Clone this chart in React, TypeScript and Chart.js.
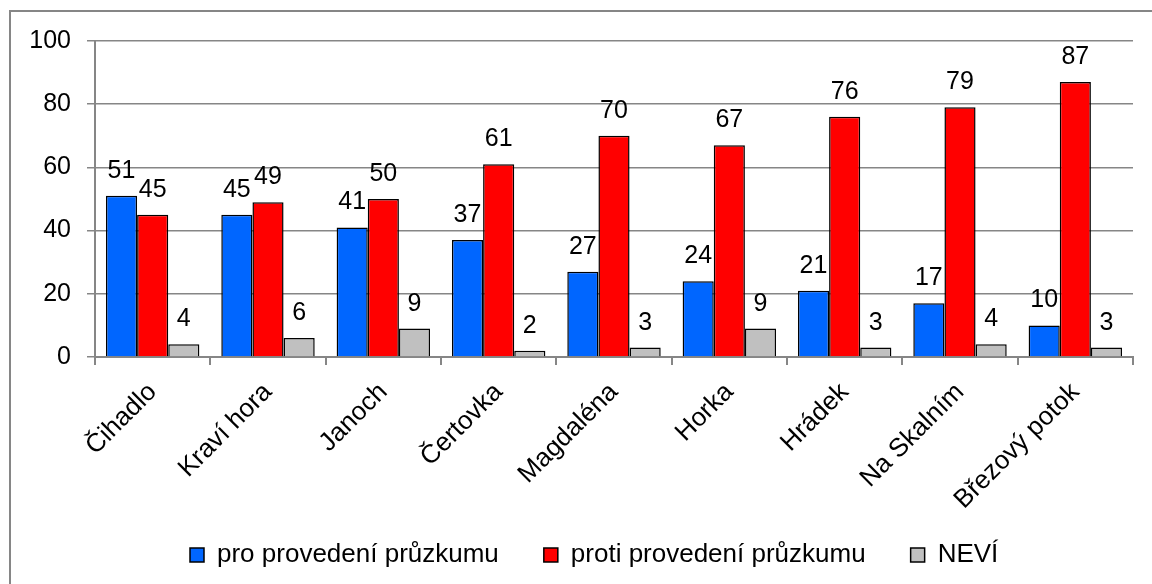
import React, { useEffect, useRef } from "react";
import { Chart, registerables } from "chart.js";

Chart.register(...registerables);

const categories = ["Čihadlo", "Kraví hora", "Janoch", "Čertovka", "Magdaléna", "Horka", "Hrádek", "Na Skalním", "Březový potok"];
const proValues = [51, 45, 41, 37, 27, 24, 21, 17, 10];
const protiValues = [45, 49, 50, 61, 70, 67, 76, 79, 87];
const neviValues = [4, 6, 9, 2, 3, 9, 3, 4, 3];
const seriesNames = ["pro provedení průzkumu", "proti provedení průzkumu", "NEVÍ"];
const yTicks = [0, 20, 40, 60, 80, 100];

const FONT = "'Liberation Sans', Arial, sans-serif";
const GRAY = "#868686";
const LEGEND_FONT = 26;
const LEGEND_PAD = 45;

const framePlugin = {
  id: "frame",
  beforeDraw(chart: any) {
    const ctx = chart.ctx;
    ctx.save();
    ctx.strokeStyle = GRAY;
    ctx.lineWidth = 2;
    ctx.strokeRect(10, 11, 3000, 3000);
    ctx.restore();
  },
};

const valueLabels = {
  id: "valueLabels",
  afterDatasetsDraw(chart: any) {
    const ctx = chart.ctx;
    ctx.save();
    ctx.font = `25px ${FONT}`;
    ctx.fillStyle = "#000";
    ctx.textAlign = "center";
    ctx.textBaseline = "alphabetic";
    chart.data.datasets.forEach((ds: any, i: number) => {
      const meta = chart.getDatasetMeta(i);
      meta.data.forEach((el: any, j: number) => {
        ctx.fillText(String(ds.data[j]), el.x, el.y - 18);
      });
    });
    ctx.restore();
  },
};

const legendShift = {
  id: "legendShift",
  afterLayout(chart: any) {
    const lg = chart.legend;
    if (!lg || !lg.lineWidths) return;
    const naturalX = (lg.left + LEGEND_PAD + lg.right - lg.lineWidths[0]) / 2;
    const sx = 190 - naturalX;
    lg.left += sx;
    lg.right += sx;
    const naturalY = lg.top + LEGEND_PAD + LEGEND_FONT / 2;
    const sy = 555 - naturalY;
    lg.top += sy;
    lg.bottom += sy;
  },
};

export default function App() {
  const ref = useRef<HTMLCanvasElement | null>(null);
  useEffect(() => {
    if (!ref.current) return;
    const chart = new Chart(ref.current, {
      type: "bar",
      data: {
        labels: categories,
        datasets: [
          { label: seriesNames[0], data: proValues, backgroundColor: "#0066FF", borderColor: "#000", borderWidth: 1.5 },
          { label: seriesNames[1], data: protiValues, backgroundColor: "#FF0000", borderColor: "#000", borderWidth: 1.5 },
          { label: seriesNames[2], data: neviValues, backgroundColor: "#C0C0C0", borderColor: "#000", borderWidth: 1.5 },
        ],
      },
      options: {
        animation: false,
        responsive: true,
        maintainAspectRatio: false,
        datasets: { bar: { categoryPercentage: 0.81, barPercentage: 1.0 } },
        layout: { padding: { left: 0, top: 41, right: 19, bottom: 0 } },
        plugins: {
          tooltip: { enabled: false },
          legend: {
            position: "bottom",
            maxHeight: 70,
            labels: {
              boxWidth: 14,
              boxHeight: 14,
              padding: LEGEND_PAD,
              color: "#000",
              font: { family: FONT, size: LEGEND_FONT },
            },
          },
        },
        scales: {
          x: {
            afterFit(scale: any) { scale.height = 157; },
            grid: { display: true, drawOnChartArea: false, drawTicks: true, tickLength: 8, color: GRAY, lineWidth: 2, offset: true },
            border: { display: true, color: GRAY, width: 2 },
            ticks: { minRotation: 45, maxRotation: 45, padding: 12, color: "#000", font: { family: FONT, size: 26 }, autoSkip: false },
          },
          y: {
            min: 0,
            max: 100,
            afterFit(scale: any) { scale.width = 95; },
            afterBuildTicks(scale: any) { scale.ticks = yTicks.map((v) => ({ value: v })); },
            grid: { color: GRAY, lineWidth: 1.5, tickLength: 8 },
            border: { display: true, color: GRAY, width: 2 },
            ticks: { padding: 16, color: "#000", font: { family: FONT, size: 25 } },
          },
        },
      },
      plugins: [framePlugin, valueLabels, legendShift],
    });
    return () => chart.destroy();
  }, []);
  return (
    <div style={{ position: "absolute", left: 0, top: 0, width: 1152, height: 584, background: "#fff" }}>
      <canvas ref={ref} />
    </div>
  );
}
